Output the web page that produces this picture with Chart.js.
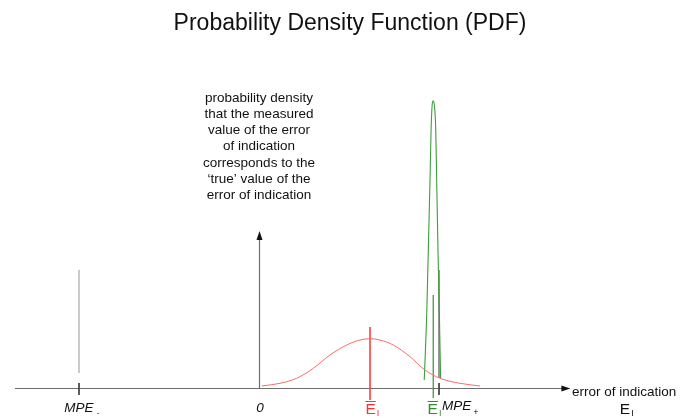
<!DOCTYPE html>
<html>
<head>
<meta charset="utf-8">
<script src="https://cdn.jsdelivr.net/npm/chart.js@4/dist/chart.umd.min.js"></script>
<style>
  html,body{margin:0;padding:0;background:#fff;}
  #wrap{width:680px;height:418px;position:relative;}
</style>
</head>
<body>
<div id="wrap"><canvas id="c" width="680" height="418"></canvas></div>
<script>
// ---- data (x in units of MPE, y = probability density, arbitrary units) ----
const titleText = "Probability Density Function (PDF)";
const annotationLines = ["probability density", "that the measured", "value of the error", "of indication", "corresponds to the", "\u2018true\u2019 value of the", "error of indication"];

const redX = [0.015, 0.117, 0.209, 0.302, 0.394, 0.487, 0.561, 0.617, 0.672, 0.746, 0.839, 0.922, 1.006, 1.117, 1.228];
const redY = [0.02, 0.047, 0.097, 0.197, 0.33, 0.43, 0.48, 0.493, 0.48, 0.43, 0.313, 0.18, 0.097, 0.047, 0.02];

const greenX = [0.918, 0.932, 0.941, 0.950, 0.956, 0.963, 0.968, 0.974, 0.982, 0.987, 0.994, 1.002, 1.009];
const greenY = [0.08, 0.747, 1.413, 2.08, 2.58, 2.847, 2.873, 2.83, 2.58, 2.08, 1.413, 0.747, 0.097];

const redMean = 0.617;      // E-bar (red)
const redMeanLine = [0.61, -0.12];
const greenMean = 0.968;    // E-bar (green)
const greenMeanLine = [0.93, -0.1];
const mpeMinus = -1;
const mpePlus = 1;
const mpeLine = [1.18, 0.15];
const mpeTick = [0.05, -0.07];

const xAxisRange = [-1.356, 1.73];
const yAxisRange = [0, 1.57];

const tickValues = [mpeMinus, 0, redMean, greenMean, mpePlus];
const tickLabels = ["MPE", "0", "E", "E", "MPE"];

// ---- build datasets ----
const toPts = (xs, ys) => xs.map((x, i) => ({x: x, y: ys[i]}));
const vline = (x, ys) => ys.map(y => ({x: x, y: y}));

const datasets = [
  {data: toPts(redX, redY), borderColor: '#ff6a6a', borderWidth: 1, cubicInterpolationMode: 'monotone'},
  {data: toPts(greenX, greenY), borderColor: '#3d9e3d', borderWidth: 1.1, cubicInterpolationMode: 'monotone'},
  {data: vline(redMean, redMeanLine), borderColor: '#ff4d4d', borderWidth: 1},
  {data: vline(greenMean, greenMeanLine), borderColor: '#3a8f3a', borderWidth: 1.2},
  {data: vline(mpeMinus, mpeLine), borderColor: '#a8a8a8', borderWidth: 1.2},
  {data: vline(mpeMinus, mpeTick), borderColor: '#444', borderWidth: 1},
  {data: vline(mpePlus, [mpeLine[0], 0.1]), borderColor: '#555', borderWidth: 1.2},
  {data: vline(mpePlus, mpeTick), borderColor: '#444', borderWidth: 1}
].map(d => Object.assign({showLine: true, pointRadius: 0, pointHoverRadius: 0, fill: false, clip: false}, d));

const FONT = "'Liberation Sans', Arial, sans-serif";

const drawPlugin = {
  id: 'drawAxesAndText',
  beforeDatasetsDraw(chart) {
    const ctx = chart.ctx;
    const xs = chart.scales.x, ys = chart.scales.y;
    const y0 = Math.round(ys.getPixelForValue(0)) + 0.5;
    const x0 = Math.round(xs.getPixelForValue(0)) + 0.5;
    ctx.save();
    ctx.strokeStyle = '#6e6e6e';
    ctx.fillStyle = '#111';
    ctx.lineWidth = 1.2;
    // x axis
    const xa = xs.getPixelForValue(xAxisRange[0]);
    const xb = xs.getPixelForValue(xAxisRange[1]);
    ctx.beginPath(); ctx.moveTo(xa, y0); ctx.lineTo(xb - 8, y0); ctx.stroke();
    ctx.beginPath(); ctx.moveTo(xb, y0); ctx.lineTo(xb - 9, y0 - 3); ctx.lineTo(xb - 9, y0 + 3); ctx.closePath(); ctx.fill();
    // y axis
    const yt = ys.getPixelForValue(yAxisRange[1]);
    ctx.beginPath(); ctx.moveTo(x0, y0); ctx.lineTo(x0, yt + 8); ctx.stroke();
    ctx.beginPath(); ctx.moveTo(x0, yt); ctx.lineTo(x0 - 3, yt + 9); ctx.lineTo(x0 + 3, yt + 9); ctx.closePath(); ctx.fill();
    ctx.restore();
  },
  afterDraw(chart) {
    const ctx = chart.ctx;
    const xs = chart.scales.x, ys = chart.scales.y;
    const y0 = ys.getPixelForValue(0);
    ctx.save();
    // title
    ctx.fillStyle = '#111';
    ctx.font = "23px " + FONT;
    ctx.textAlign = 'center';
    ctx.textBaseline = 'alphabetic';
    ctx.fillText(titleText, 350, 30);
    // annotation
    ctx.font = "13.5px " + FONT;
    ctx.textBaseline = 'middle';
    const ax = xs.getPixelForValue(0);
    annotationLines.forEach((l, i) => ctx.fillText(l, ax, 98 + i * 16.2));
    // axis title
    ctx.textAlign = 'left';
    ctx.fillText("error of indication", 572, y0 + 4);
    const labY = y0 + 20;
    const eY = y0 + 22;
    const drawE = (cx, color) => {
      ctx.fillStyle = color; ctx.strokeStyle = color;
      ctx.font = "15.5px " + FONT;
      ctx.textAlign = 'center';
      ctx.textBaseline = 'middle';
      const w = ctx.measureText("E").width;
      ctx.fillText("E", cx, eY);
      ctx.font = "9px " + FONT;
      ctx.textAlign = 'left';
      ctx.fillText("I", cx + w / 2 + 1, eY + 4);
      return w;
    };
    const drawEbar = (cx, color) => {
      const w = drawE(cx, color);
      ctx.lineWidth = 1;
      ctx.beginPath(); ctx.moveTo(cx - w / 2, eY - 8.5); ctx.lineTo(cx + w / 2, eY - 8.5); ctx.stroke();
    };
    // MPE-
    const mx = xs.getPixelForValue(tickValues[0]);
    ctx.fillStyle = '#111';
    ctx.font = "italic 13.5px " + FONT;
    ctx.textAlign = 'center';
    ctx.textBaseline = 'middle';
    ctx.fillText(tickLabels[0], mx, labY);
    const mw = ctx.measureText(tickLabels[0]).width;
    ctx.font = "8px " + FONT;
    ctx.textAlign = 'left';
    ctx.fillText("-", mx + mw / 2 + 3, labY + 5);
    // 0
    ctx.font = "italic 13.5px " + FONT;
    ctx.textAlign = 'center';
    ctx.fillText(tickLabels[1], xs.getPixelForValue(tickValues[1]) + 1, labY);
    // E-bars
    drawEbar(xs.getPixelForValue(tickValues[2]) + 0.5, '#ff3030');
    drawEbar(xs.getPixelForValue(tickValues[3]) - 0.5, '#2e8b2e');
    // MPE+
    const px2 = xs.getPixelForValue(tickValues[4]) + 3;
    ctx.fillStyle = '#111';
    ctx.font = "italic 13.5px " + FONT;
    ctx.textAlign = 'left';
    ctx.textBaseline = 'middle';
    ctx.fillText(tickLabels[4], px2, labY - 2);
    const mw2 = ctx.measureText(tickLabels[4]).width;
    ctx.font = "9px " + FONT;
    ctx.fillText("+", px2 + mw2 + 2, labY + 5);
    // E_I axis symbol
    drawE(625, '#111');
    ctx.restore();
  }
};

new Chart(document.getElementById('c'), {
  type: 'scatter',
  data: {datasets: datasets},
  options: {
    responsive: false,
    animation: false,
    events: [],
    layout: {padding: {top: 88, bottom: 0, left: 0, right: 0}},
    plugins: {legend: {display: false}, tooltip: {enabled: false}, title: {display: false}},
    scales: {
      x: {type: 'linear', display: false, min: -259 / 180, max: 421 / 180},
      y: {type: 'linear', display: false, min: -0.3, max: 3.0}
    }
  },
  plugins: [drawPlugin]
});
</script>
</body>
</html>
